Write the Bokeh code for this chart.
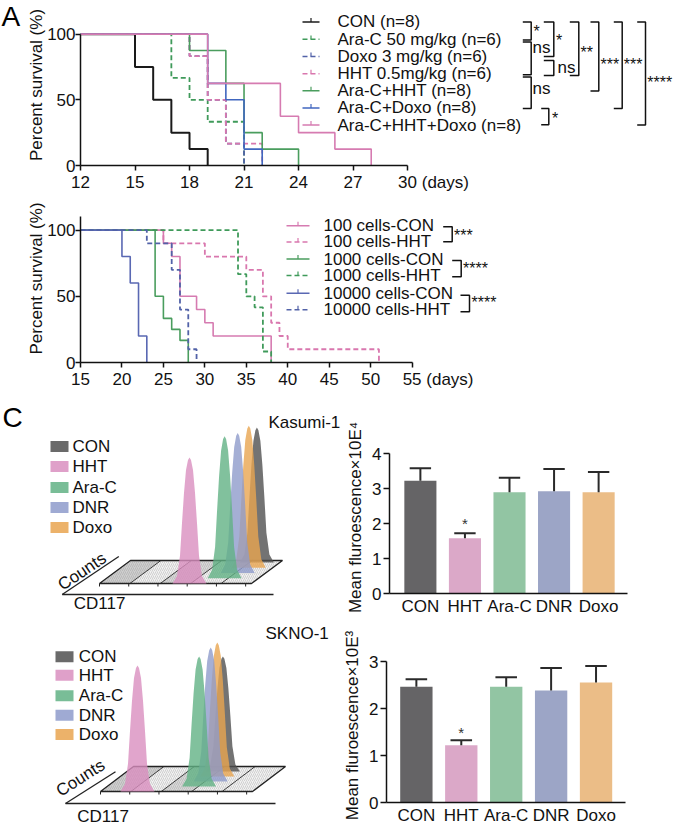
from bokeh.plotting import figure
from bokeh.layouts import column, row
from bokeh.models import Range1d, FixedTicker
from bokeh.core.properties import value
from bokeh.embed import file_html
from bokeh.resources import INLINE

FONT = "Liberation Sans"
INK = "#111111"
NB = "\u00a0"

# ======================= DATA =======================
# ---- Panel A: Kaplan-Meier survival (day, percent) ----
a_labels = ["CON (n=8)", "Ara-C 50 mg/kg (n=6)", "Doxo 3 mg/kg (n=6)",
            "HHT 0.5mg/kg (n=6)", "Ara-C+HHT (n=8)", "Ara-C+Doxo (n=8)",
            "Ara-C+HHT+Doxo (n=8)"]
a_con_days = [12, 15, 16, 17, 18, 19]
a_con_surv = [100, 75, 50, 25, 12.5, 0]
a_arac_days = [12, 17, 18, 19, 21]
a_arac_surv = [100, 66.7, 50, 33.3, 0]
a_doxo_days = [12, 18, 19, 20, 21]
a_doxo_surv = [100, 83.3, 50, 16.7, 0]
a_hht_days = [12, 18, 19, 20, 22]
a_hht_surv = [100, 83.3, 50, 16.7, 0]
a_arac_hht_days = [12, 18, 20, 21, 22, 24]
a_arac_hht_surv = [100, 87.5, 62.5, 25, 12.5, 0]
a_arac_doxo_days = [12, 19, 20, 21, 22]
a_arac_doxo_surv = [100, 62.5, 50, 12.5, 0]
a_triple_days = [12, 19, 23, 24, 26, 28]
a_triple_surv = [100, 62.5, 37.5, 25, 12.5, 0]
a_xticks = [12, 15, 18, 21, 24, 27, 30]
a_yticks = [0, 50, 100]
a_sig = ["*", "ns", "ns", "*", "ns", "**", "***", "***", "****", "*"]

# ---- Panel B ----
b_labels = ["100 cells-CON", "100 cells-HHT", "1000 cells-CON",
            "1000 cells-HHT", "10000 cells-CON", "10000 cells-HHT"]
b_100_con_days = [15, 25, 26, 27, 29, 30, 31, 38]
b_100_con_surv = [100, 90, 80, 50, 40, 30, 20, 0]
b_100_hht_days = [15, 25, 30, 35, 37, 38, 39, 40, 51]
b_100_hht_surv = [100, 90, 80, 70, 50, 30, 20, 10, 0]
b_1000_con_days = [15, 24, 25, 26, 27, 28]
b_1000_con_surv = [100, 50, 33.3, 25, 16.7, 0]
b_1000_hht_days = [15, 34, 35, 36, 37, 38]
b_1000_hht_surv = [100, 66.7, 50, 41.7, 8.3, 0]
b_10000_con_days = [15, 20, 21, 22, 23]
b_10000_con_surv = [100, 80, 60, 20, 0]
b_10000_hht_days = [15, 23, 26, 27, 28, 29]
b_10000_hht_surv = [100, 90, 70, 40, 10, 0]
b_xticks = [15, 20, 25, 30, 35, 40, 45, 50, 55]
b_yticks = [0, 50, 100]
b_sig = ["***", "****", "****"]

# ---- Panel C: bar charts ----
c_groups = ["CON", "HHT", "Ara-C", "DNR", "Doxo"]
kas_mean = [3.22, 1.58, 2.89, 2.92, 2.89]
kas_upper = [3.58, 1.72, 3.31, 3.56, 3.47]
sk_mean = [2.47, 1.22, 2.47, 2.39, 2.56]
sk_upper = [2.63, 1.33, 2.67, 2.87, 2.91]
kas_yticks = [0, 1, 2, 3, 4]
sk_yticks = [0, 1, 2, 3]
c_sig = ["", "*", "", "", ""]

# ---- Panel C: flow histograms (CD117 a.u., counts) ----
kas_peak_pos = [129, 90, 118, 124, 128]
kas_peak_height = [135, 126, 142, 140, 142]
sk_peak_pos = [96, 37, 92, 97, 97]
sk_peak_height = [115, 126, 130, 134, 134]
peak_layer = [4, 0, 1, 2, 3]
peak_profile_dx = [-17, -12.5, -9.5, -7.5, -5.5, -3.5, -1.5, 0, 1.5, 3.5, 5.5, 7.5, 9.5, 12.5, 17]
peak_profile_h = [0, 0.06, 0.22, 0.48, 0.72, 0.9, 0.98, 1.0, 0.98, 0.9, 0.72, 0.48, 0.22, 0.06, 0]

# ======================= STYLE =======================
PINK, PINK_D = "#d67bb1", "#d977ae"
GREEN, GREEN_D = "#4a9d5e", "#3f9a5a"
BLUE, BLUE_D = "#4066bf", "#5262a8"
DASH = "5 3"
bar_colors = ["#656466", "#dba8c8", "#92c5a3", "#9ca5c6", "#ebbd87"]
hist_colors = ["#505050", "#d98fbf", "#62b185", "#8e9bcb", "#e9a550"]


def clean(p):
    p.outline_line_color = None
    p.background_fill_color = "white"
    p.border_fill_color = "white"


def style_axes(p, size="17px"):
    clean(p)
    p.xgrid.grid_line_color = None
    p.ygrid.grid_line_color = None
    for a in p.axis:
        a.axis_line_color = INK
        a.axis_line_width = 1.5
        a.major_tick_line_color = INK
        a.major_tick_line_width = 1.5
        a.major_tick_in = 0
        a.major_tick_out = 5
        a.minor_tick_line_color = None
        a.major_label_text_font = FONT
        a.major_label_text_font_size = size
        a.major_label_text_color = INK
        a.axis_label_text_font = FONT
        a.axis_label_text_font_size = size
        a.axis_label_text_font_style = "normal"
        a.axis_label_text_color = INK


def txt(p, xs, ys, texts, size="17px", align="left", baseline="middle", angle=0.0, color=INK):
    p.text(x=xs, y=ys, text=texts, text_font=value(FONT), text_font_size=value(size),
           text_align=align, text_baseline=baseline, angle=angle, text_color=color)


def plain_fig(width, height, xr, yr, top=0, bottom=0):
    p = figure(width=width, height=height, title=None, x_range=Range1d(*xr),
               y_range=Range1d(*yr), x_axis_type=None, y_axis_type=None,
               output_backend="svg", toolbar_location=None, min_border_left=0,
               min_border_right=0, min_border_top=top, min_border_bottom=bottom)
    clean(p)
    return p


GUT = 22   # width of the panel-letter strip


def letter_fig(text, height, top, bottom, cy):
    # frame spans page rows [top, height-bottom]; y axis = page y (flipped)
    p = plain_fig(GUT, height, (0, GUT), (height - bottom, top), top, bottom)
    txt(p, [1], [cy], [text], size="28px", color="#000000")
    return p


# ======================= PANEL A =======================
def ax(px):
    return 12 + (px - 80) / 18.17


def ay(py):
    return (167 - py) / 1.33


pA = figure(width=677 - GUT, height=194, title=None, x_range=Range1d(ax(80), ax(677)),
            y_range=Range1d(ay(167), ay(4)), output_backend="svg", toolbar_location=None,
            min_border_left=80 - GUT, min_border_right=0, min_border_top=4,
            min_border_bottom=27)
style_axes(pA)
pA.xaxis.ticker = FixedTicker(ticks=a_xticks)
pA.xaxis.bounds = (12, 30)
pA.xaxis.major_label_standoff = 2
pA.xaxis.major_label_overrides = {30: NB * 11 + "30 (days)"}
pA.yaxis.ticker = FixedTicker(ticks=a_yticks)
pA.yaxis.bounds = (0, 100)
pA.yaxis.axis_label = "Percent survival (%)"
pA.yaxis.major_label_standoff = 0
pA.yaxis.axis_label_standoff = -2

a_series = [
    (a_con_days, a_con_surv, "#1a1a1a", "solid", 2.0),
    (a_arac_days, a_arac_surv, GREEN_D, DASH, 1.8),
    (a_doxo_days, a_doxo_surv, BLUE_D, DASH, 1.8),
    (a_hht_days, a_hht_surv, PINK_D, DASH, 1.8),
    (a_arac_hht_days, a_arac_hht_surv, GREEN, "solid", 1.6),
    (a_arac_doxo_days, a_arac_doxo_surv, BLUE, "solid", 1.6),
    (a_triple_days, a_triple_surv, PINK, "solid", 1.6),
]
for d, s, c, dash, w in a_series:
    pA.step(d, s, mode="after", line_color=c, line_dash=dash, line_width=w)

rowsA = [21.7, 39.3, 56.7, 74.0, 91.3, 108.7, 126.0]
for r, (d, s, c, dash, w) in zip(rowsA, a_series):
    pA.segment(x0=[ax(302)], y0=[ay(r)], x1=[ax(319)], y1=[ay(r)], line_color=c,
               line_dash=dash, line_width=1.5)
    pA.segment(x0=[ax(310.5)], y0=[ay(r)], x1=[ax(310.5)], y1=[ay(r - 4)], line_color=c,
               line_width=1.2)
txt(pA, [ax(337)] * len(a_labels), [ay(r) for r in rowsA], a_labels)

# significance brackets: (vertical x, top y, bottom y, tick start x) in px
brA = [(530.7, 21.7, 40.0, 522.3), (530.7, 42.0, 75.0, 522.3), (530.7, 77.3, 109.3, 522.3),
       (553.3, 21.7, 56.7, 543.3), (553.3, 60.7, 76.0, 543.3), (578.3, 21.7, 76.0, 569.3),
       (598.3, 21.7, 91.7, 590.0), (621.7, 21.7, 109.3, 613.3), (645.0, 21.7, 126.0, 636.7),
       (548.3, 109.3, 125.7, 540.7)]
posA = [(533, 28.3), (532, 49.5), (532, 91.0), (555.5, 36.7), (557, 69.0), (580, 49.3),
        (600, 61.7), (623.3, 61.7), (646.7, 79.3), (551.5, 116.0)]
pA.multi_line(xs=[[ax(t), ax(x), ax(x), ax(t)] for x, y0, y1, t in brA],
              ys=[[ay(y0), ay(y0), ay(y1), ay(y1)] for x, y0, y1, t in brA],
              line_color=INK, line_width=1.5)
for lab, (x, yc) in zip(a_sig, posA):
    if lab == "ns":
        txt(pA, [ax(x)], [ay(yc - 1.7)], [lab], size="17px")
    else:
        txt(pA, [ax(x)], [ay(yc + 3.4)], [lab], size="16px")

letA = letter_fig("A", 194, 4, 27, 16)

# ======================= PANEL B =======================
def bx(px):
    return 15 + (px - 80) / 8.29


def by(py):
    return (364 - py) / 1.34


pB = figure(width=677 - GUT, height=197, title=None, x_range=Range1d(bx(80), bx(677)),
            y_range=Range1d(by(364), by(194)), output_backend="svg", toolbar_location=None,
            min_border_left=80 - GUT, min_border_right=0, min_border_top=0,
            min_border_bottom=27)
style_axes(pB)
pB.xaxis.ticker = FixedTicker(ticks=b_xticks)
pB.xaxis.bounds = (15, 55)
pB.xaxis.major_label_standoff = 2
pB.xaxis.major_label_overrides = {55: NB * 11 + "55 (days)"}
pB.yaxis.ticker = FixedTicker(ticks=b_yticks)
pB.yaxis.bounds = (0, 110)
pB.yaxis.axis_label = "Percent survival (%)"
pB.yaxis.major_label_standoff = 0
pB.yaxis.axis_label_standoff = -2

b_series = [
    (b_100_con_days, b_100_con_surv, PINK, "solid", 1.6),
    (b_100_hht_days, b_100_hht_surv, PINK_D, DASH, 1.8),
    (b_1000_con_days, b_1000_con_surv, GREEN, "solid", 1.6),
    (b_1000_hht_days, b_1000_hht_surv, GREEN_D, DASH, 1.8),
    (b_10000_con_days, b_10000_con_surv, "#5a68b3", "solid", 1.6),
    (b_10000_hht_days, b_10000_hht_surv, BLUE_D, DASH, 1.8),
]
for d, s, c, dash, w in b_series:
    pB.step(d, s, mode="after", line_color=c, line_dash=dash, line_width=w)

rowsB = [225.5, 242.0, 259.3, 276.0, 294.0, 310.5]
for r, (d, s, c, dash, w) in zip(rowsB, b_series):
    pB.segment(x0=[bx(286)], y0=[by(r)], x1=[bx(309)], y1=[by(r)], line_color=c,
               line_dash=dash, line_width=1.5)
    pB.segment(x0=[bx(297.5)], y0=[by(r)], x1=[bx(297.5)], y1=[by(r - 4)], line_color=c,
               line_width=1.2)
txt(pB, [bx(323)] * len(b_labels), [by(r) for r in rowsB], b_labels)

brB = [(451.7, 226.7, 241.7, 442.7), (460.7, 260.7, 277.3, 451.7), (469.0, 296.0, 312.7, 460.0)]
posB = [(453.5, 231.7), (462.5, 265.0), (471.0, 300.0)]
pB.multi_line(xs=[[bx(t), bx(x), bx(x), bx(t)] for x, y0, y1, t in brB],
              ys=[[by(y0), by(y0), by(y1), by(y1)] for x, y0, y1, t in brB],
              line_color=INK, line_width=1.5)
for lab, (x, yc) in zip(b_sig, posB):
    txt(pB, [bx(x)], [by(yc + 3.4)], [lab], size="16px")

letB = letter_fig("B", 197, 0, 27, 206)


# ======================= PANEL C: histograms =======================
def draw_hist(p, pos, heights, g):
    fw, fdx, fdy = g["floor"]
    nb = 5
    band_fill = ["#cfcfcf", "#f2f2f2", "#d8d8d8", "#f2f2f2", "#f2f2f2"]
    bxs, bys = [], []
    for i in range(nb):
        x0, x1 = fw * i / nb, fw * (i + 1) / nb
        bxs.append([x0, x1, x1 + fdx, x0 + fdx])
        bys.append([0, 0, fdy, fdy])
    p.patches(xs=bxs, ys=bys, fill_color=band_fill, line_color=None,
              hatch_pattern="/", hatch_color="#8a8a8a", hatch_alpha=0.55,
              hatch_scale=4, hatch_weight=0.6)
    p.multi_line(xs=[[fw * i / nb, fw * i / nb + fdx] for i in range(1, nb)],
                 ys=[[0, fdy] for i in range(1, nb)], line_color="#3a3a3a", line_width=1)
    p.patch(x=[0, fw, fw + fdx, fdx, 0], y=[0, 0, fdy, fdy, 0], fill_color=None,
            line_color="#222222", line_width=1.3)
    tk = [fw * i / 5.2 for i in range(6)]
    p.segment(x0=tk, y0=[0] * 6, x1=tk, y1=[-3] * 6, line_color="#222222", line_width=1)
    ldx, ldy = g["layer"]
    order = sorted(range(len(pos)), key=lambda k: -peak_layer[k])
    pxs, pys, pcs = [], [], []
    for k in order:
        L = peak_layer[k]
        cx, cy = pos[k] + L * ldx, L * ldy
        pxs.append([cx + d for d in peak_profile_dx])
        pys.append([cy + h * heights[k] for h in peak_profile_h])
        pcs.append(hist_colors[k])
    p.patches(xs=pxs, ys=pys, fill_color=pcs, fill_alpha=0.8, line_color=None)
    (cx0, cy0), (cx1, cy1) = g["counts_line"]
    p.segment(x0=[cx0, cx0], y0=[cy0, cy0], x1=[cx1, g["xaxis_end"]], y1=[cy1, cy0],
              line_color="#222222", line_width=1.3)
    txt(p, [g["counts_xy"][0]], [g["counts_xy"][1]], ["Counts"], align="center",
        angle=g["counts_angle"])
    txt(p, [g["cd_xy"][0]], [g["cd_xy"][1]], ["CD117"])
    lx, tx = g["legend_x"]
    rows = g["legend_rows"]
    p.rect(x=[lx] * 5, y=rows, width=18, height=11, fill_color=hist_colors,
           fill_alpha=0.85, line_color=None)
    txt(p, [tx] * 5, rows, c_groups)
    txt(p, [g["title_xy"][0]], [g["title_xy"][1]], [g["title"]])


# panel letter C in its own strip (page rows 391..621)
letC = plain_fig(GUT, 230, (0, GUT), (621, 391))
txt(letC, [2], [416.5], ["C"], size="28px", color="#000000")

# Kasumi-1 (1 unit = 1 px; origin at front-left floor corner, page (99, 583))
hC1 = plain_fig(343 - GUT, 230, (GUT - 99, 343 - 99), (583 - 621, 583 - 391))
draw_hist(hC1, kas_peak_pos, kas_peak_height, dict(
    floor=(152, 31, 23), layer=(7.1, 5.25),
    counts_line=((-37.3, -11), (19.3, 27)), xaxis_end=174,
    counts_xy=(-17.5, 12.0), counts_angle=0.59, cd_xy=(-25.7, -20),
    legend_x=(-40, -27), legend_rows=[137, 117, 96, 76, 56],
    title="Kasumi-1", title_xy=(169, 161)))

# SKNO-1 (origin at front-left floor corner, page (100, 791))
hC2 = plain_fig(340, 206, (0 - 100, 340 - 100), (791 - 827, 791 - 621))
draw_hist(hC2, sk_peak_pos, sk_peak_height, dict(
    floor=(152, 33, 25), layer=(6.6, 5.0),
    counts_line=((-35, -12), (15, 19.7)), xaxis_end=175,
    counts_xy=(-20, 13.5), counts_angle=0.565, cd_xy=(-23.3, -25),
    legend_x=(-36, -21.7), legend_rows=[134.7, 116.3, 95.7, 76.3, 57.0],
    title="SKNO-1", title_xy=(165, 158)))


# ======================= PANEL C: bar charts =======================
def bar_fig(width, height, xr, yr, mb, mean, upper, yticks, ylabel, star_dy):
    p = figure(width=width, height=height, title=None, x_range=Range1d(*xr),
               y_range=Range1d(*yr), output_backend="svg", toolbar_location=None,
               min_border_left=mb[0], min_border_right=mb[1], min_border_top=mb[2],
               min_border_bottom=mb[3])
    style_axes(p)
    idx = list(range(len(c_groups)))
    p.vbar(x=idx, top=mean, width=0.72, fill_color=bar_colors, line_color=None)
    p.segment(x0=idx, y0=mean, x1=idx, y1=upper, line_color="#2a2a2a", line_width=2)
    p.segment(x0=[i - 0.24 for i in idx], y0=upper, x1=[i + 0.24 for i in idx], y1=upper,
              line_color="#2a2a2a", line_width=2)
    for i, s in enumerate(c_sig):
        if s:
            txt(p, [i], [upper[i] + star_dy], [s], size="15px", align="center",
                color="#333333")
    p.xaxis.ticker = FixedTicker(ticks=idx)
    p.xaxis.major_label_overrides = {i: g for i, g in enumerate(c_groups)}
    p.xaxis.major_tick_out = 0
    p.xaxis.major_tick_line_color = None
    p.xaxis.major_label_standoff = 3
    p.yaxis.ticker = FixedTicker(ticks=yticks)
    p.yaxis.bounds = (0, yticks[-1])
    p.yaxis.major_tick_out = 6
    p.yaxis.major_label_standoff = 2
    p.yaxis.axis_label = ylabel
    p.yaxis.axis_label_standoff = 4
    return p


pC1 = bar_fig(334, 230, (-0.693, 4.648), (0, 152 / 35), (45, 50, 50, 28),
              kas_mean, kas_upper, kas_yticks, "Mean fluroescence×10E⁴", 9.5 / 35)
pC2 = bar_fig(337, 206, (-0.665, 4.656), (0, 156 / 47.5), (45, 52, 27, 23),
              sk_mean, sk_upper, sk_yticks, "Mean fluroescence×10E³", 7.8 / 47.5)

layout = column(row(letA, pA), row(letB, pB),
                row(column(letC), column(hC1), column(pC1)),
                row(column(hC2), column(pC2)))
open("out.html", "w").write(file_html(layout, INLINE))
